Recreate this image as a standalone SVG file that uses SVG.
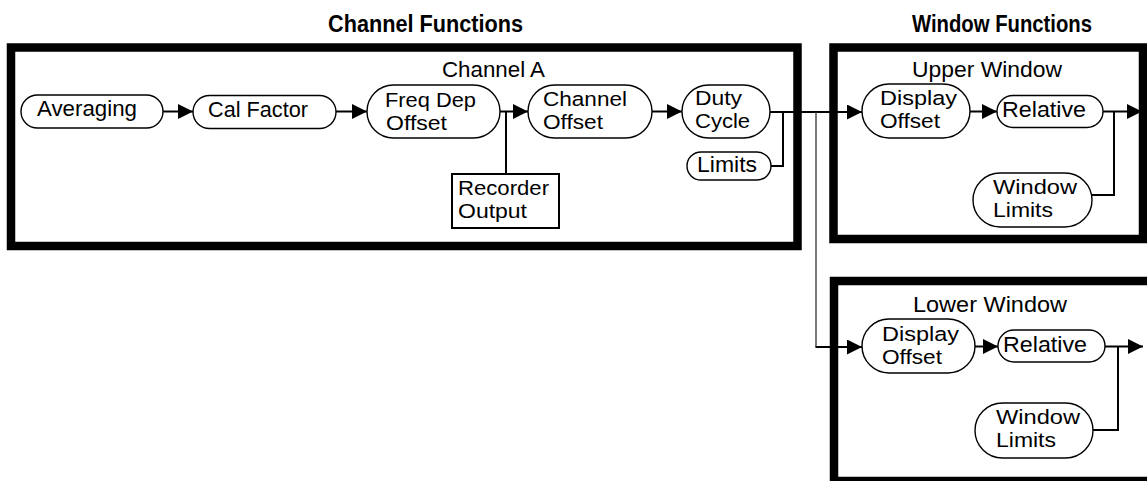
<svg xmlns="http://www.w3.org/2000/svg" width="1147" height="481" viewBox="0 0 1147 481">
<style>
text{font-family:"Liberation Sans Narrow","Liberation Sans",Arial,sans-serif;font-size:22px;fill:#000}
text.two{font-size:20.5px}
.title{font-weight:bold;font-size:23px}
.frame{fill:none;stroke:#000;stroke-width:8.5}
.node{fill:#fff;stroke:#000;stroke-width:1.4}
.box{fill:#fff;stroke:#000;stroke-width:2}
.conn{fill:none;stroke:#000;stroke-width:2}
.thin{fill:none;stroke:#333;stroke-width:1.3}
</style>
<defs>
<marker id="ah" markerWidth="15" markerHeight="15" refX="15" refY="7.5" orient="auto" markerUnits="userSpaceOnUse">
<path d="M0,0 L15,7.5 L0,15 z" fill="#000"/>
</marker>
</defs>
<rect width="1147" height="481" fill="#fff"/>

<text class="title" x="328" y="32" textLength="195" lengthAdjust="spacingAndGlyphs">Channel Functions</text>
<text class="title" x="912" y="32" textLength="180" lengthAdjust="spacingAndGlyphs">Window Functions</text>

<g id="channel-a">
<rect class="frame" x="11" y="47.5" width="786.5" height="198.5"/>
<text x="442" y="77" textLength="103" lengthAdjust="spacingAndGlyphs">Channel A</text>
</g>
<g id="upper-window">
<rect class="frame" x="833.5" y="47.5" width="309.5" height="191.5"/>
<text x="912" y="77" textLength="150" lengthAdjust="spacingAndGlyphs">Upper Window</text>
</g>
<g id="lower-window">
<rect class="frame" x="834" y="281" width="330" height="200"/>
<text x="913" y="312" textLength="154" lengthAdjust="spacingAndGlyphs">Lower Window</text>
</g>

<g id="connectors">
<path class="conn" d="M163,111.5 H193" marker-end="url(#ah)"/>
<path class="conn" d="M336,111.5 H367" marker-end="url(#ah)"/>
<path class="conn" d="M500,111.5 H528" marker-end="url(#ah)"/>
<path class="conn" d="M506,111.5 V174"/>
<path class="conn" d="M652,111.5 H682" marker-end="url(#ah)"/>
<path class="conn" d="M770,112 H862" marker-end="url(#ah)"/>
<path class="conn" d="M771,166 H783 V112"/>
<path class="thin" d="M816,112 V347"/>
<path class="conn" d="M815.5,347 H862" marker-end="url(#ah)"/>
<path class="conn" d="M970,111.5 H997" marker-end="url(#ah)"/>
<path class="conn" d="M1103,111.5 H1142" marker-end="url(#ah)"/>
<path class="conn" d="M1092,195 H1114 V111.5"/>
<path class="conn" d="M975,346.5 H998" marker-end="url(#ah)"/>
<path class="conn" d="M1105,346.5 H1143" marker-end="url(#ah)"/>
<path class="conn" d="M1093,430 H1118 V346.5"/>
</g>

<g id="averaging">
<rect class="node" x="21" y="95" width="142" height="33" rx="16.5"/>
<text x="37" y="116" textLength="100" lengthAdjust="spacingAndGlyphs">Averaging</text>
</g>
<g id="cal-factor">
<rect class="node" x="193" y="95.5" width="143" height="33" rx="16.5"/>
<text x="208" y="117" textLength="100" lengthAdjust="spacingAndGlyphs">Cal Factor</text>
</g>
<g id="freq-dep-offset">
<rect class="node" x="367" y="85" width="133" height="53" rx="26.5"/>
<text class="two"><tspan x="385" y="107" textLength="91" lengthAdjust="spacingAndGlyphs">Freq Dep</tspan><tspan x="386" y="130" textLength="61" lengthAdjust="spacingAndGlyphs">Offset</tspan></text>
</g>
<g id="recorder-output">
<rect class="box" x="452" y="174" width="107" height="54"/>
<text class="two"><tspan x="458" y="195" textLength="91" lengthAdjust="spacingAndGlyphs">Recorder</tspan><tspan x="458" y="218" textLength="69" lengthAdjust="spacingAndGlyphs">Output</tspan></text>
</g>
<g id="channel-offset">
<rect class="node" x="528" y="85" width="124" height="53" rx="26.5"/>
<text class="two"><tspan x="543" y="106" textLength="84" lengthAdjust="spacingAndGlyphs">Channel</tspan><tspan x="543" y="129" textLength="60" lengthAdjust="spacingAndGlyphs">Offset</tspan></text>
</g>
<g id="duty-cycle">
<rect class="node" x="682" y="85" width="88" height="53" rx="26.5"/>
<text class="two"><tspan x="695" y="105" textLength="47" lengthAdjust="spacingAndGlyphs">Duty</tspan><tspan x="695" y="128" textLength="55" lengthAdjust="spacingAndGlyphs">Cycle</tspan></text>
</g>
<g id="limits">
<rect class="node" x="687" y="152" width="84" height="28" rx="14"/>
<text x="697" y="172" textLength="60" lengthAdjust="spacingAndGlyphs">Limits</text>
</g>

<g id="upper-display-offset">
<rect class="node" x="862" y="84" width="108" height="54" rx="27"/>
<text class="two"><tspan x="880" y="105" textLength="77" lengthAdjust="spacingAndGlyphs">Display</tspan><tspan x="880" y="128" textLength="60" lengthAdjust="spacingAndGlyphs">Offset</tspan></text>
</g>
<g id="upper-relative">
<rect class="node" x="997" y="95.5" width="106" height="32" rx="16"/>
<text x="1002" y="117" textLength="84" lengthAdjust="spacingAndGlyphs">Relative</text>
</g>
<g id="upper-window-limits">
<rect class="node" x="973" y="173" width="119" height="54" rx="27"/>
<text class="two"><tspan x="993" y="194" textLength="84" lengthAdjust="spacingAndGlyphs">Window</tspan><tspan x="993" y="217" textLength="60" lengthAdjust="spacingAndGlyphs">Limits</tspan></text>
</g>

<g id="lower-display-offset">
<rect class="node" x="862" y="319" width="113" height="54" rx="27"/>
<text class="two"><tspan x="882" y="341" textLength="77" lengthAdjust="spacingAndGlyphs">Display</tspan><tspan x="882" y="364" textLength="60" lengthAdjust="spacingAndGlyphs">Offset</tspan></text>
</g>
<g id="lower-relative">
<rect class="node" x="998" y="330" width="107" height="32" rx="16"/>
<text x="1003" y="352" textLength="84" lengthAdjust="spacingAndGlyphs">Relative</text>
</g>
<g id="lower-window-limits">
<rect class="node" x="975" y="403" width="118" height="55" rx="27.5"/>
<text class="two"><tspan x="996" y="424" textLength="84" lengthAdjust="spacingAndGlyphs">Window</tspan><tspan x="996" y="447" textLength="60" lengthAdjust="spacingAndGlyphs">Limits</tspan></text>
</g>
</svg>
